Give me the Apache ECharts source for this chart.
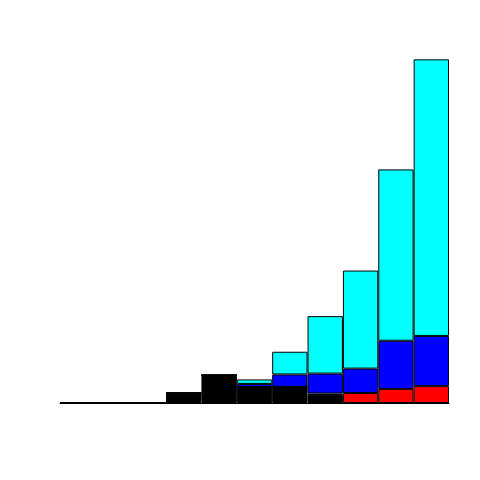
<!DOCTYPE html>
<html>
<head>
<meta charset="utf-8">
<script src="https://cdn.jsdelivr.net/npm/echarts@6/dist/echarts.min.js"></script>
<style>html,body{margin:0;padding:0;background:#fff;}#c{width:480px;height:480px;}</style>
</head>
<body>
<div id="c"></div>
<script>
var categories = ['1','2','3','4','5','6','7','8','9','10','11'];
var blackVals = [0, 0, 0, 2.9, 8.1, 4.65, 4.7, 2.3, 0, 0, 0];
var redVals   = [0, 0, 0, 0, 0, 0, 0, 0.45, 2.9, 4.1, 4.9];
var blueVals  = [0, 0, 0, 0, 0, 0.9, 3.6, 5.8, 7.1, 14.0, 14.6];
var cyanVals  = [0, 0, 0, 0, 0, 1.3, 6.6, 16.7, 28.5, 49.8, 80.4];

function ser(name, data, color) {
  return {
    name: name, type: 'bar', stack: 'all', data: data,
    barCategoryGap: '0%', barWidth: '100%',
    itemStyle: { color: color, borderColor: '#000', borderWidth: 1 },
    emphasis: { disabled: true },
    animation: false
  };
}

var chart = echarts.init(document.getElementById('c'));
chart.setOption({
  animation: false,
  backgroundColor: '#fff',
  grid: { left: 60, right: 31, top: 59, bottom: 77 },
  xAxis: {
    type: 'category', data: categories, boundaryGap: true,
    axisLine: { show: true, onZero: false, lineStyle: { color: '#000', width: 1 } },
    axisTick: { show: false }, axisLabel: { show: false }, splitLine: { show: false }
  },
  yAxis: {
    type: 'value', min: 0, max: 100,
    axisLine: { show: false }, axisTick: { show: false }, axisLabel: { show: false }, splitLine: { show: false }
  },
  series: [
    ser('black', blackVals, '#000000'),
    ser('red', redVals, '#FF0000'),
    ser('blue', blueVals, '#0000FF'),
    ser('cyan', cyanVals, '#00FFFF')
  ]
});
</script>
</body>
</html>
